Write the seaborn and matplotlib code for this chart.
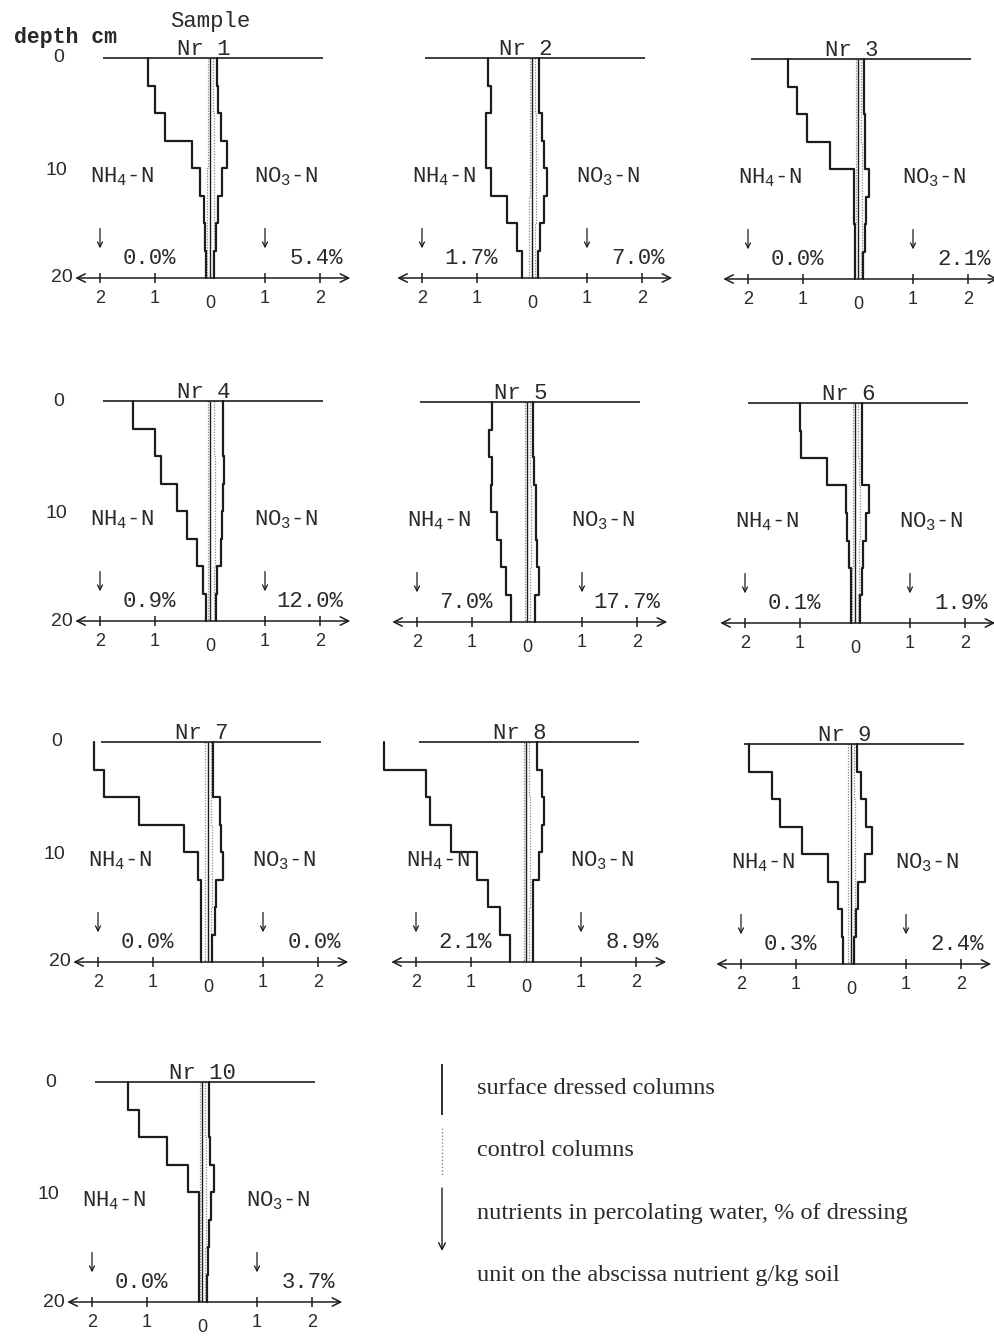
import numpy as np
import pandas as pd
import matplotlib
matplotlib.use("Agg")
import matplotlib.pyplot as plt
import seaborn as sns

# ---------------- data ----------------
SAMPLES = ["1", "2", "3", "4", "5", "6", "7", "8", "9", "10"]
DEPTH = [0, 2.5, 5, 7.5, 10, 12.5, 15, 17.5, 20]   # layer boundaries, cm

# NH4-N in surface dressed columns (g/kg soil), per 2.5 cm layer
NH4_DRESSED = [
    [1.13, 1.00, 0.81, 0.32, 0.19, 0.11, 0.09, 0.07],
    [0.80, 0.75, 0.83, 0.83, 0.74, 0.46, 0.28, 0.18],
    [1.27, 1.10, 0.92, 0.50, 0.08, 0.07, 0.06, 0.05],
    [1.40, 1.00, 0.89, 0.60, 0.42, 0.24, 0.12, 0.08],
    [0.64, 0.69, 0.63, 0.66, 0.54, 0.48, 0.39, 0.29],
    [1.00, 0.98, 0.50, 0.17, 0.14, 0.10, 0.08, 0.08],
    [2.08, 1.90, 1.25, 0.44, 0.18, 0.13, 0.13, 0.13],
    [2.58, 1.82, 1.74, 1.36, 0.89, 0.69, 0.48, 0.29],
    [1.85, 1.44, 1.29, 0.90, 0.42, 0.23, 0.17, 0.14],
    [1.34, 1.15, 0.64, 0.26, 0.06, 0.06, 0.06, 0.06],
]
# NO3-N in surface dressed columns
NO3_DRESSED = [
    [0.12, 0.15, 0.20, 0.30, 0.21, 0.15, 0.11, 0.08],
    [0.12, 0.12, 0.18, 0.21, 0.28, 0.21, 0.15, 0.11],
    [0.11, 0.11, 0.12, 0.13, 0.20, 0.15, 0.12, 0.09],
    [0.23, 0.23, 0.25, 0.23, 0.22, 0.20, 0.12, 0.10],
    [0.10, 0.10, 0.13, 0.16, 0.16, 0.18, 0.21, 0.15],
    [0.13, 0.13, 0.13, 0.26, 0.20, 0.15, 0.12, 0.10],
    [0.10, 0.10, 0.21, 0.24, 0.28, 0.15, 0.12, 0.08],
    [0.20, 0.29, 0.32, 0.30, 0.23, 0.13, 0.13, 0.13],
    [0.10, 0.19, 0.28, 0.38, 0.25, 0.13, 0.09, 0.06],
    [0.12, 0.12, 0.15, 0.21, 0.17, 0.12, 0.11, 0.10],
]
# control columns (dotted)
NH4_CONTROL = [
    [0.04, 0.04, 0.04, 0.04, 0.05, 0.05, 0.05, 0.05],
    [0.04, 0.04, 0.04, 0.04, 0.04, 0.05, 0.05, 0.05],
    [0.04, 0.04, 0.04, 0.04, 0.04, 0.04, 0.05, 0.05],
    [0.03, 0.03, 0.03, 0.03, 0.03, 0.03, 0.03, 0.03],
    [0.04, 0.04, 0.04, 0.04, 0.04, 0.04, 0.04, 0.04],
    [0.04, 0.04, 0.04, 0.04, 0.04, 0.04, 0.05, 0.05],
    [0.05, 0.05, 0.05, 0.05, 0.05, 0.05, 0.05, 0.05],
    [0.04, 0.04, 0.04, 0.04, 0.04, 0.04, 0.04, 0.04],
    [0.05, 0.05, 0.05, 0.05, 0.05, 0.05, 0.05, 0.05],
    [0.03, 0.03, 0.03, 0.03, 0.03, 0.03, 0.03, 0.03],
]
NO3_CONTROL = [
    [0.06, 0.06, 0.07, 0.08, 0.08, 0.07, 0.07, 0.06],
    [0.06, 0.06, 0.07, 0.07, 0.07, 0.07, 0.06, 0.06],
    [0.05, 0.05, 0.06, 0.07, 0.08, 0.08, 0.07, 0.06],
    [0.08, 0.08, 0.09, 0.09, 0.09, 0.09, 0.08, 0.07],
    [0.06, 0.06, 0.06, 0.07, 0.07, 0.07, 0.06, 0.06],
    [0.06, 0.06, 0.07, 0.09, 0.10, 0.08, 0.07, 0.06],
    [0.05, 0.05, 0.06, 0.07, 0.08, 0.07, 0.06, 0.05],
    [0.06, 0.06, 0.07, 0.07, 0.07, 0.07, 0.06, 0.06],
    [0.05, 0.06, 0.07, 0.08, 0.08, 0.07, 0.06, 0.05],
    [0.06, 0.06, 0.07, 0.08, 0.08, 0.07, 0.06, 0.06],
]
# nutrients in percolating water, % of dressing
PCT_NH4 = ["0.0%", "1.7%", "0.0%", "0.9%", "7.0%", "0.1%", "0.0%", "2.1%", "0.3%", "0.0%"]
PCT_NO3 = ["5.4%", "7.0%", "2.1%", "12.0%", "17.7%", "1.9%", "0.0%", "8.9%", "2.4%", "3.7%"]
XTICKS = [-2, -1, 0, 1, 2]
DEPTH_TICKS = [0, 10, 20]
LEGEND_TEXT = ["surface dressed columns", "control columns",
               "nutrients in percolating water, % of dressing",
               "unit on the abscissa nutrient g/kg soil"]

# ---------------- style ----------------
sns.set_theme(style="white")
plt.rcParams["font.family"] = ["Liberation Mono", "DejaVu Sans"]
plt.rcParams["mathtext.fontset"] = "custom"
plt.rcParams["mathtext.rm"] = "Liberation Mono"

INK = "#1c1c1c"
TXT = "#2a2a2a"
DOT = "#8a8a8a"
W, H = 995, 1338
UX, UY = 55.0, 11.0            # px per g/kg, px per cm
XL, YL = (-3.0, 2.9), (-4.5, 23.5)

# panel anchors: pixel of (x=0, depth=0)
ANCHORS = [(210, 58), (532, 58), (858, 59),
           (210, 401), (527, 402), (855, 403),
           (208, 742), (526, 742), (851, 744),
           (202, 1082)]

fig = plt.figure(figsize=(W / 100, H / 100), dpi=100)
fig.patch.set_facecolor("white")

MONO = 16
SANS = ["Liberation Sans", "DejaVu Sans"]


def steps(values, sign):
    rows = []
    for v, d0, d1 in zip(values, DEPTH[:-1], DEPTH[1:]):
        rows.append((sign * v, d0))
        rows.append((sign * v, d1))
    return pd.DataFrame(rows, columns=["conc", "depth"])


for i, s in enumerate(SAMPLES):
    zx, zy = ANCHORS[i]
    left = zx + XL[0] * UX
    top = zy + YL[0] * UY
    wpx = (XL[1] - XL[0]) * UX
    hpx = (YL[1] - YL[0]) * UY
    ax = fig.add_axes([left / W, 1 - (top + hpx) / H, wpx / W, hpx / H])
    ax.set_xlim(*XL)
    ax.set_ylim(YL[1], YL[0])
    ax.axis("off")
    ax.patch.set_alpha(0)

    # control columns (dotted)
    for vals, sign in ((NH4_CONTROL[i], -1), (NO3_CONTROL[i], 1)):
        sns.lineplot(data=steps(vals, sign), x="conc", y="depth", ax=ax,
                     sort=False, estimator=None, color=DOT, lw=0.9,
                     linestyle=(0, (1, 1.2)))
    # zero line
    ax.vlines(0, DEPTH[0], DEPTH[-1], color=INK, lw=1.0)
    # surface dressed columns (solid)
    for vals, sign in ((NH4_DRESSED[i], -1), (NO3_DRESSED[i], 1)):
        sns.lineplot(data=steps(vals, sign), x="conc", y="depth", ax=ax,
                     sort=False, estimator=None, color=INK, lw=1.6)

    # surface line and abscissa
    ax.hlines(DEPTH[0], -1.95, 2.05, color=INK, lw=1.2)
    ax.annotate("", xy=(-2.45, DEPTH[-1]), xytext=(2.55, DEPTH[-1]),
                arrowprops=dict(arrowstyle="<->", lw=1.1, color=INK,
                                shrinkA=0, shrinkB=0, mutation_scale=15))
    ax.vlines([t for t in XTICKS if t != 0], DEPTH[-1] - 0.45, DEPTH[-1] + 0.45,
              color=INK, lw=1.1)
    for t in XTICKS:
        ax.text(t, 21.9 if t != 0 else 22.3, str(abs(t)), ha="center", va="center",
                fontsize=13, family=SANS, color=TXT)

    # labels
    ax.text(-0.6, -0.25, f"Nr {s}", ha="left", va="baseline", fontsize=MONO, color=TXT)
    ax.text(-2.18, 11.3, r"NH$\mathregular{_4}$-N", ha="left", va="baseline",
            fontsize=MONO, color=TXT)
    ax.text(0.8, 11.3, r"NO$\mathregular{_3}$-N", ha="left", va="baseline",
            fontsize=MONO, color=TXT)
    for xa in (-2, 1):
        ax.annotate("", xy=(xa, 17.3), xytext=(xa, 15.5),
                    arrowprops=dict(arrowstyle="->", lw=0.9, color=INK,
                                    shrinkA=0, shrinkB=0, mutation_scale=9))
    ax.text(-0.62, 18.2, PCT_NH4[i], ha="right", va="center", fontsize=MONO, color=TXT)
    ax.text(2.42, 18.2, PCT_NO3[i], ha="right", va="center", fontsize=MONO, color=TXT)

    # depth labels on left column
    if i % 3 == 0:
        ax.text(-2.75, 0, str(DEPTH_TICKS[0]), ha="center", va="center",
                fontsize=14, family=SANS, color=TXT)
        ax.text(-2.8, 10.2, str(DEPTH_TICKS[1]), ha="center", va="center",
                fontsize=14, family=SANS, color=TXT)
        ax.text(-2.5, 20, str(DEPTH_TICKS[2]), ha="right", va="center",
                fontsize=14, family=SANS, color=TXT)
    if i == 0:
        ax.text(0.0, -3.3, "Sample", ha="center", va="center", fontsize=MONO, color=TXT)

# overlay for page-level texts and legend (pixel coordinates)
ov = fig.add_axes([0, 0, 1, 1])
ov.set_xlim(0, W)
ov.set_ylim(H, 0)
ov.axis("off")
ov.patch.set_alpha(0)
ov.text(65, 37, "depth cm", ha="center", va="center", fontsize=15.5,
        fontweight="bold", color=TXT)

ov.vlines(442, 1064, 1115, color=INK, lw=1.3)
ov.vlines(442, 1128, 1175, color=DOT, lw=1.0, linestyle=(0, (1, 1.5)))
ov.annotate("", xy=(442, 1251), xytext=(442, 1188),
            arrowprops=dict(arrowstyle="->", lw=1.0, color=INK,
                            shrinkA=0, shrinkB=0, mutation_scale=12))
for txt, yy in zip(LEGEND_TEXT, (1088, 1150, 1213, 1275)):
    ov.text(477, yy, txt, ha="left", va="center", fontsize=17.5,
            family=["Liberation Serif", "DejaVu Serif"], color=TXT)

fig.savefig("out.png", dpi=100, facecolor="white")
